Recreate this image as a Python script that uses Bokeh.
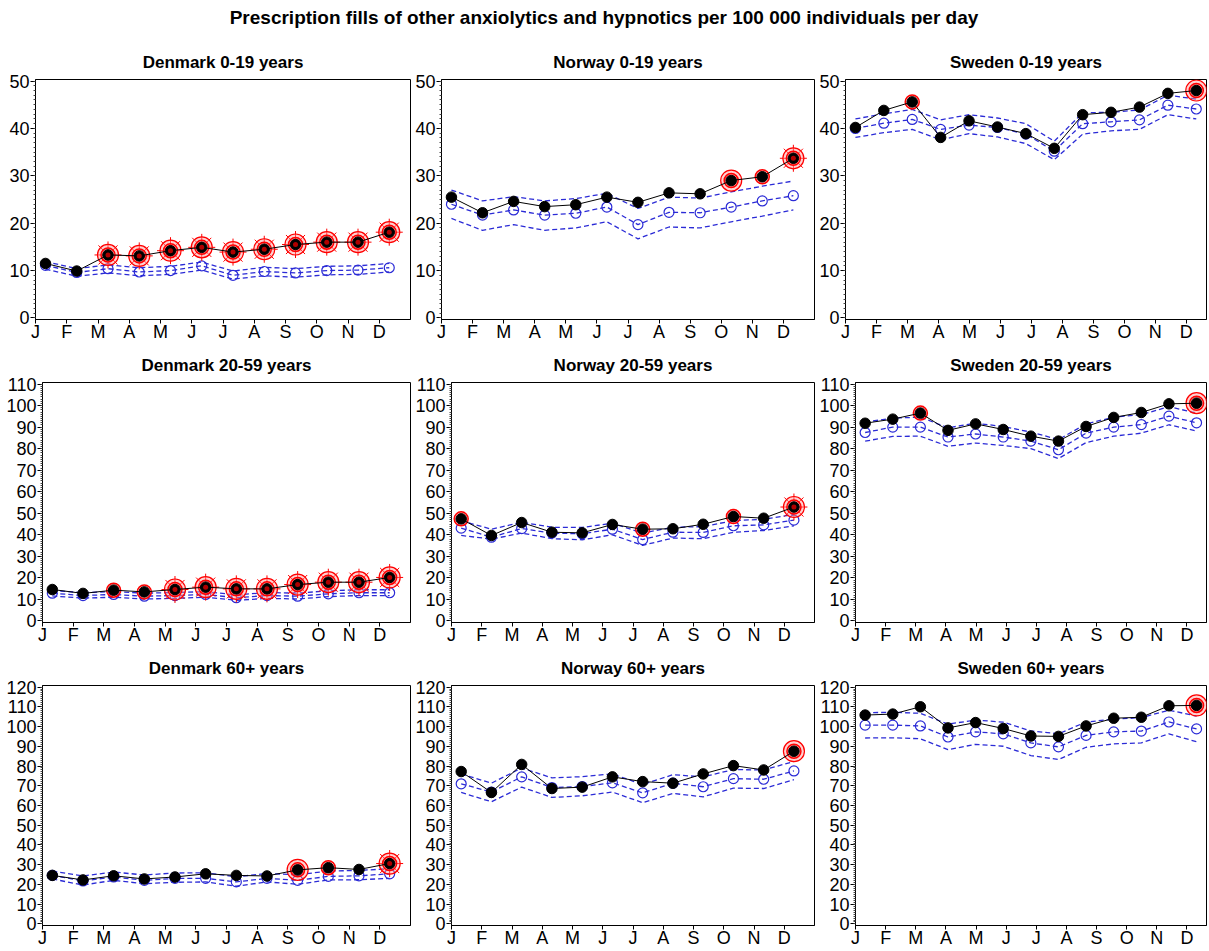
from bokeh.plotting import figure
from bokeh.layouts import column, row
from bokeh.models import Range1d, FixedTicker, Div
from bokeh.embed import file_html
from bokeh.resources import INLINE
import numpy as np

MAIN_TITLE = "Prescription fills of other anxiolytics and hypnotics per 100 000 individuals per day"
MONTHS = ["J", "F", "M", "A", "M", "J", "J", "A", "S", "O", "N", "D"]

# ---------------- Denmark 0-19 (monthly) ----------------
dk_0_19_obs = [11.5, 9.9, 13.3, 13.1, 14.2, 14.9, 13.9, 14.5, 15.5, 16.0, 16.0, 18.1]
dk_0_19_exp = [11.1, 9.6, 10.4, 9.7, 10.0, 11.0, 9.0, 9.8, 9.5, 10.0, 10.1, 10.6]
dk_0_19_hi = [11.9, 10.4, 11.2, 10.6, 10.9, 11.8, 9.9, 10.7, 10.4, 10.9, 11.0, 11.5]
dk_0_19_lo = [10.3, 8.8, 9.5, 8.9, 9.2, 10.1, 8.2, 8.9, 8.6, 9.1, 9.2, 9.7]
dk_0_19_sig = [0, 0, 3, 3, 3, 3, 3, 3, 3, 3, 3, 3]

# ---------------- Norway 0-19 (monthly) ----------------
no_0_19_obs = [25.5, 22.2, 24.6, 23.5, 23.9, 25.5, 24.4, 26.4, 26.2, 29.0, 29.8, 33.7]
no_0_19_exp = [24.0, 21.7, 22.8, 21.7, 22.1, 23.4, 19.7, 22.3, 22.2, 23.4, 24.7, 25.8]
no_0_19_hi = [27.0, 24.7, 25.6, 24.7, 25.2, 26.3, 23.1, 25.5, 25.3, 26.6, 27.8, 28.9]
no_0_19_lo = [21.0, 18.5, 19.7, 18.5, 19.0, 20.3, 16.7, 19.2, 19.0, 20.3, 21.5, 22.8]
no_0_19_sig = [0, 0, 0, 0, 0, 0, 0, 0, 0, 2, 1, 3]

# ---------------- Sweden 0-19 (13 four-week periods) ----------------
se_0_19_obs = [40.2, 43.8, 45.6, 38.1, 41.6, 40.3, 38.9, 35.8, 42.9, 43.4, 44.5, 47.4, 48.0]
se_0_19_exp = [40.0, 41.1, 41.9, 39.8, 40.7, 40.2, 38.8, 35.2, 41.0, 41.4, 41.8, 44.9, 44.1]
se_0_19_hi = [42.0, 43.1, 44.0, 41.8, 42.9, 42.2, 41.0, 37.3, 43.3, 43.4, 43.9, 47.0, 46.2]
se_0_19_lo = [38.1, 39.1, 39.8, 37.6, 38.9, 38.2, 36.8, 33.4, 38.8, 39.5, 39.8, 42.9, 42.0]
se_0_19_sig = [0, 0, 1, 0, 0, 0, 0, 0, 0, 0, 0, 0, 2]

# ---------------- Denmark 20-59 ----------------
dk_20_59_obs = [14.6, 12.8, 14.3, 13.5, 14.6, 15.7, 14.9, 14.9, 16.9, 18.0, 18.0, 20.2]
dk_20_59_exp = [12.9, 11.8, 12.3, 11.5, 11.8, 12.3, 10.8, 11.8, 11.5, 12.6, 13.1, 13.1]
dk_20_59_hi = [14.2, 13.1, 13.7, 12.9, 13.2, 13.6, 12.1, 13.2, 12.9, 14.0, 14.5, 14.5]
dk_20_59_lo = [11.6, 10.6, 11.0, 10.2, 10.5, 11.0, 9.6, 10.5, 10.2, 11.3, 11.8, 11.8]
dk_20_59_sig = [0, 0, 1, 1, 3, 3, 3, 3, 3, 3, 3, 3]

# ---------------- Norway 20-59 ----------------
no_20_59_obs = [47.4, 39.7, 45.7, 41.2, 40.9, 44.8, 42.6, 42.8, 44.9, 48.5, 47.7, 52.9]
no_20_59_exp = [43.1, 38.9, 42.9, 40.8, 40.5, 42.6, 37.8, 41.2, 41.1, 44.2, 44.6, 46.8]
no_20_59_hi = [46.5, 42.6, 45.8, 43.5, 43.4, 45.4, 40.8, 43.5, 43.8, 46.6, 47.2, 49.5]
no_20_59_lo = [39.7, 38.0, 40.8, 38.2, 37.7, 40.0, 35.1, 38.5, 38.2, 41.2, 42.0, 44.2]
no_20_59_sig = [1, 0, 0, 0, 0, 0, 1, 0, 0, 1, 0, 3]

# ---------------- Sweden 20-59 ----------------
se_20_59_obs = [91.8, 93.7, 96.5, 88.5, 91.5, 88.9, 85.8, 83.5, 90.3, 94.5, 96.8, 100.8, 101.1]
se_20_59_exp = [87.5, 90.0, 90.0, 85.4, 86.8, 85.4, 83.5, 79.5, 87.2, 90.0, 91.2, 95.1, 92.0]
se_20_59_hi = [92.3, 94.2, 94.6, 89.7, 91.8, 90.3, 87.7, 84.2, 91.5, 94.6, 95.8, 99.5, 96.5]
se_20_59_lo = [83.5, 85.7, 85.8, 81.1, 82.6, 81.5, 80.0, 75.4, 82.8, 85.8, 87.2, 91.1, 88.2]
se_20_59_sig = [0, 0, 1, 0, 0, 0, 0, 0, 0, 0, 0, 0, 2]

# ---------------- Denmark 60+ ----------------
dk_60_obs = [24.6, 22.3, 24.4, 22.8, 23.8, 25.4, 24.6, 24.3, 27.4, 28.5, 27.6, 30.6]
dk_60_exp = [24.6, 21.8, 23.8, 22.1, 23.1, 23.1, 21.3, 23.1, 22.1, 24.1, 24.4, 25.4]
dk_60_hi = [26.8, 24.3, 26.3, 24.8, 25.8, 25.9, 23.9, 25.6, 24.9, 26.8, 27.1, 28.0]
dk_60_lo = [22.8, 19.7, 22.1, 20.4, 21.1, 21.3, 19.1, 21.3, 20.1, 22.3, 22.4, 23.1]
dk_60_sig = [0, 0, 0, 0, 0, 0, 0, 0, 2, 1, 0, 3]

# ---------------- Norway 60+ ----------------
no_60_obs = [77.2, 66.6, 80.8, 68.6, 69.3, 74.5, 72.1, 71.3, 76.0, 80.2, 78.0, 87.5]
no_60_exp = [71.0, 66.8, 74.5, 69.1, 69.6, 71.5, 66.4, 71.3, 69.5, 73.6, 73.3, 77.5]
no_60_hi = [76.0, 71.3, 79.0, 74.0, 74.6, 76.0, 70.6, 75.6, 74.5, 78.2, 78.0, 82.3]
no_60_lo = [66.6, 61.9, 69.3, 64.1, 64.9, 66.8, 61.4, 66.1, 64.4, 68.8, 68.6, 73.1]
no_60_sig = [0, 0, 0, 0, 0, 0, 0, 0, 0, 0, 0, 2]

# ---------------- Sweden 60+ ----------------
se_60_obs = [105.8, 106.3, 110.0, 99.3, 102.0, 99.0, 95.2, 95.0, 100.3, 104.2, 104.7, 110.5, 110.7]
se_60_exp = [100.7, 100.7, 100.3, 94.7, 97.3, 96.3, 91.7, 89.7, 95.5, 97.3, 97.7, 102.3, 98.8]
se_60_hi = [107.0, 107.2, 106.7, 101.2, 103.3, 102.2, 97.8, 96.3, 102.3, 103.7, 104.5, 108.3, 105.3]
se_60_lo = [94.2, 94.3, 93.8, 88.3, 91.0, 90.0, 85.3, 83.3, 89.5, 91.2, 91.7, 96.3, 92.3]
se_60_sig = [0, 0, 0, 0, 0, 0, 0, 0, 0, 0, 0, 0, 2]

ROW_YMAX = [50, 110, 120]

PANELS = [
    ("Denmark 0-19 years", dk_0_19_obs, dk_0_19_exp, dk_0_19_hi, dk_0_19_lo, dk_0_19_sig),
    ("Norway 0-19 years", no_0_19_obs, no_0_19_exp, no_0_19_hi, no_0_19_lo, no_0_19_sig),
    ("Sweden 0-19 years", se_0_19_obs, se_0_19_exp, se_0_19_hi, se_0_19_lo, se_0_19_sig),
    ("Denmark 20-59 years", dk_20_59_obs, dk_20_59_exp, dk_20_59_hi, dk_20_59_lo, dk_20_59_sig),
    ("Norway 20-59 years", no_20_59_obs, no_20_59_exp, no_20_59_hi, no_20_59_lo, no_20_59_sig),
    ("Sweden 20-59 years", se_20_59_obs, se_20_59_exp, se_20_59_hi, se_20_59_lo, se_20_59_sig),
    ("Denmark 60+ years", dk_60_obs, dk_60_exp, dk_60_hi, dk_60_lo, dk_60_sig),
    ("Norway 60+ years", no_60_obs, no_60_exp, no_60_hi, no_60_lo, no_60_sig),
    ("Sweden 60+ years", se_60_obs, se_60_exp, se_60_hi, se_60_lo, se_60_sig),
]

FONT = "Liberation Sans"
BLUE = "#2b2bd6"
WIDTHS = [412, 404, 392]
X_END = [12.0, 12.0, 11.65]
# left border per [row][col]
MIN_LEFT = [[35, 27, 28], [42, 35, 35], [42, 35, 35]]


def period_positions(n):
    # position on the month axis (month index + fraction) of each period's point
    if n == 12:
        return list(np.arange(12) + 0.32)
    return list(0.32 + np.arange(n) * (11.0 / 12.0))


def make_panel(idx, title, obs, exp, hi, lo, sig):
    r, c = divmod(idx, 3)
    ymax = ROW_YMAX[r]
    pad = ymax * 0.0065
    p = figure(width=WIDTHS[c], height=303, output_backend="svg", toolbar_location=None,
               x_range=Range1d(0, X_END[c]), y_range=Range1d(-pad, ymax + pad),
               min_border_left=MIN_LEFT[r][c], min_border_right=2, min_border_top=38,
               min_border_bottom=0)
    p.title.text = title
    p.title.align = "center"
    p.title.text_font = FONT
    p.title.text_font_size = "17px"
    p.title.text_font_style = "bold"
    p.title.text_color = "black"
    p.title.standoff = 16
    p.outline_line_color = "black"
    p.outline_line_width = 1
    p.outline_line_alpha = 1
    p.xgrid.visible = False
    p.ygrid.visible = False
    p.background_fill_color = "white"
    p.border_fill_color = "white"

    p.xaxis.ticker = FixedTicker(ticks=list(range(12)))
    p.xaxis.major_label_overrides = {i: m for i, m in enumerate(MONTHS)}
    p.yaxis.ticker = FixedTicker(ticks=list(range(0, ymax + 1, 10)),
                                 minor_ticks=list(np.arange(0, ymax + 0.1, 1.0)))
    for ax in (p.xaxis[0], p.yaxis[0]):
        ax.axis_line_color = "black"
        ax.major_tick_line_color = "black"
        ax.major_tick_in = 0
        ax.major_tick_out = 5
        ax.minor_tick_in = 0
        ax.minor_tick_out = 2
        ax.minor_tick_line_color = "#444444"
        ax.major_label_text_font = FONT
        ax.major_label_text_font_size = "18px"
        ax.major_label_text_color = "black"
        ax.major_label_standoff = 1
    p.xaxis.minor_tick_line_color = None
    p.xaxis.major_tick_out = 4
    p.xaxis.major_label_standoff = -2

    xs = period_positions(len(obs))

    # confidence bounds and expected
    p.line(xs, hi, line_color=BLUE, line_width=1.3, line_dash="5 3")
    p.line(xs, lo, line_color=BLUE, line_width=1.3, line_dash="5 3")
    p.line(xs, exp, line_color=BLUE, line_width=1.3, line_dash="5 3")
    p.scatter(xs, exp, marker="circle", size=10, fill_color=None, line_color=BLUE, line_width=1.2)

    # signal markers behind the observed points
    x1 = [x for x, s in zip(xs, sig) if s >= 1]
    y1 = [y for y, s in zip(obs, sig) if s >= 1]
    x2 = [x for x, s in zip(xs, sig) if s >= 2]
    y2 = [y for y, s in zip(obs, sig) if s >= 2]
    x3 = [x for x, s in zip(xs, sig) if s >= 3]
    y3 = [y for y, s in zip(obs, sig) if s >= 3]
    if x3:
        p.scatter(x3, y3, marker="asterisk", size=27, line_color="red", line_width=1)
    if x2:
        p.scatter(x2, y2, marker="circle", size=21, fill_color="#ff9a9a", fill_alpha=0.45,
                  line_color="red", line_width=1.2)
    if x1:
        p.scatter(x1, y1, marker="circle", size=14, fill_color="#ff6060", fill_alpha=0.5,
                  line_color="red", line_width=1.5)

    # observed
    p.line(xs, obs, line_color="black", line_width=1)
    p.scatter(xs, obs, marker="circle", size=10.5, fill_color="black", line_color="black")
    if x3:
        p.scatter(x3, y3, marker="circle", size=5, fill_color="#b00000", line_color=None)
    return p


figs = [make_panel(i, *pan) for i, pan in enumerate(PANELS)]

title_div = Div(text=MAIN_TITLE, width=1208, height=41, margin=(0, 0, 0, 0),
                styles={"font-family": FONT, "font-size": "19px", "font-weight": "bold",
                        "text-align": "center", "width": "1208px", "line-height": "36px",
                        "color": "black"})

layout = column(title_div,
                row(*figs[0:3], spacing=0),
                row(*figs[3:6], spacing=0),
                row(*figs[6:9], spacing=0),
                spacing=0)

open("out.html", "w").write(file_html(layout, INLINE, title="Prescription fills"))
